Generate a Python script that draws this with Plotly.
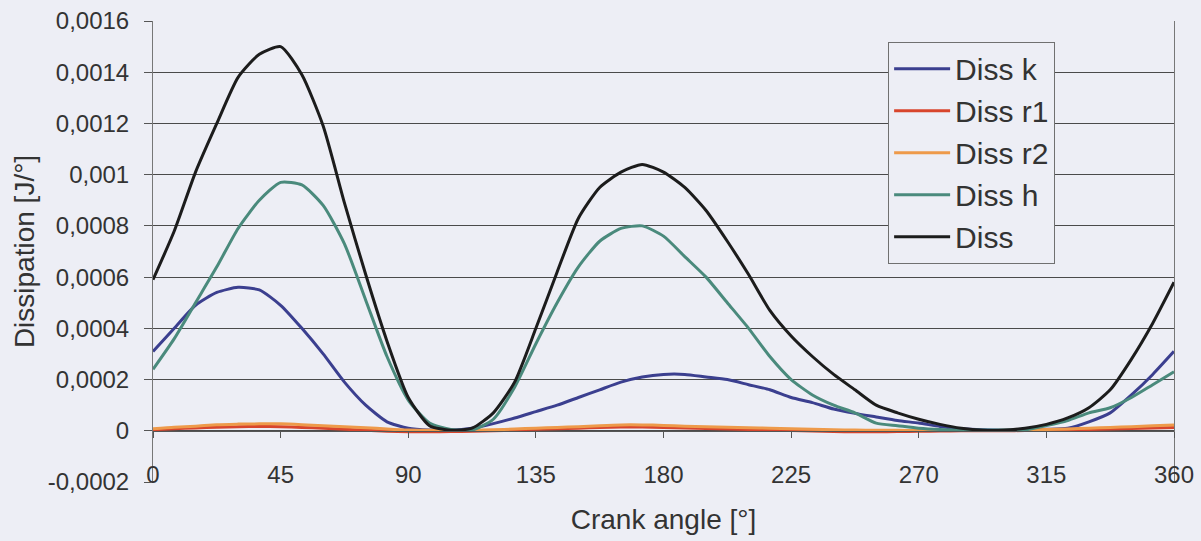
import plotly.graph_objects as go

# crank angle grid, degrees
angle = [i * 7.5 for i in range(49)]

diss_k = [0.00031, 0.00040, 0.00049, 0.00054, 0.00056, 0.00055, 0.00049, 0.00040,
          0.00030, 0.00019, 0.00010, 0.000035, 0.00001, 0.000003, 0.000002, 0.00001,
          0.000028, 0.00005, 0.000075, 0.00010, 0.00013, 0.00016, 0.00019, 0.00021,
          0.00022, 0.00022, 0.00021, 0.00020, 0.00018, 0.00016, 0.00013, 0.00011,
          0.000085, 0.000068, 0.000054, 0.00004, 0.00003, 0.000017, 0.000008, 0.000004,
          0.000003, 0.000004, 0.000006, 0.00001, 0.000035, 0.00007, 0.00014, 0.00022,
          0.00031]

diss_r1 = [0.000004, 0.000008, 0.000011, 0.000014, 0.000016, 0.000017, 0.000016, 0.000013,
           0.00001, 0.000006, 0.000002, -0.000002, -0.000004, -0.000004, -0.000003, -0.000002,
           0.0, 0.000003, 0.000006, 0.000008, 0.00001, 0.000013, 0.000015, 0.000015,
           0.000013, 0.000011, 0.000009, 0.000007, 0.000005, 0.000003, 0.000001, -0.000001,
           -0.000003, -0.000004, -0.000004, -0.000003, -0.000002, -0.000001, 0.0, 0.0,
           0.0, 0.000001, 0.000002, 0.000003, 0.000005, 0.000007, 0.000009, 0.000011,
           0.000013]

diss_r2 = [0.000008, 0.000014, 0.000018, 0.000024, 0.000026, 0.000027, 0.000027, 0.000024,
           0.00002, 0.000016, 0.000012, 0.000007, 0.000003, 0.000002, 0.000001, 0.000002,
           0.000004, 0.000007, 0.00001, 0.000013, 0.000016, 0.00002, 0.000023, 0.000023,
           0.000021, 0.000018, 0.000016, 0.000014, 0.000012, 0.00001, 0.000008, 0.000006,
           0.000004, 0.000003, 0.000002, 0.000002, 0.000001, 0.000001, 0.000001, 0.000001,
           0.000002, 0.000003, 0.000005, 0.000007, 0.00001, 0.000013, 0.000016, 0.00002,
           0.000023]

diss_h = [0.00024, 0.00036, 0.00050, 0.00064, 0.00079, 0.00090, 0.00097, 0.00096,
          0.00088, 0.00073, 0.00051, 0.00029, 0.00012, 0.00003, 0.000005, 0.000003,
          0.000045, 0.00017, 0.00034, 0.00050, 0.00064, 0.00074, 0.00079, 0.00080,
          0.00076, 0.00068, 0.00060, 0.00050, 0.00040, 0.00029, 0.00020, 0.00014,
          0.00010, 0.00007, 0.00003, 0.00002, 0.00001, 0.000005, 0.000003, 0.000003,
          0.000003, 0.000003, 0.00002, 0.00004, 0.00007, 0.00009, 0.00013, 0.00018,
          0.00023]

diss = [0.00059, 0.00078, 0.00101, 0.00120, 0.00138, 0.00147, 0.00150, 0.00139,
        0.00119, 0.00089, 0.00061, 0.00035, 0.00013, 0.00002, 0.000002, 0.00001,
        0.00007, 0.00019, 0.00040, 0.00062, 0.00083, 0.00095, 0.00101, 0.00104,
        0.00101, 0.00095, 0.00086, 0.00074, 0.00061, 0.00047, 0.00037, 0.00029,
        0.00022, 0.00016, 0.00010, 0.00007, 0.000045, 0.000025, 0.00001, 0.000002,
        0.000002, 0.00001, 0.000025, 0.00005, 0.00009, 0.00016, 0.00028, 0.00042,
        0.00058]

y_ticks = [-0.0002, 0, 0.0002, 0.0004, 0.0006, 0.0008, 0.001, 0.0012, 0.0014, 0.0016]
y_labels = ["-0,0002", "0", "0,0002", "0,0004", "0,0006", "0,0008", "0,001", "0,0012", "0,0014", "0,0016"]
x_ticks = [0, 45, 90, 135, 180, 225, 270, 315, 360]

series = [
    ("Diss k", diss_k, "#3b3f8f"),
    ("Diss r1", diss_r1, "#d8452c"),
    ("Diss r2", diss_r2, "#ee9a4a"),
    ("Diss h", diss_h, "#4a8a7c"),
    ("Diss", diss, "#1c1c1c"),
]

bg = "#edeef5"
font = "Liberation Sans, Arial, sans-serif"

fig = go.Figure()
for name, vals, col in series:
    fig.add_trace(go.Scatter(x=angle, y=vals, name=name, mode="lines",
                             line=dict(color=col, width=3, shape="spline", smoothing=0.6)))

fig.update_layout(
    width=1201, height=541,
    margin=dict(l=153, r=27, t=21, b=59),
    paper_bgcolor=bg, plot_bgcolor=bg,
    font=dict(family=font, size=24, color="#333333"),
    showlegend=True,
    legend=dict(x=0.72, y=0.955, xanchor="left", yanchor="top",
                bgcolor=bg, bordercolor="#707070", borderwidth=1,
                font=dict(size=30, color="#333333"), itemwidth=56),
)

fig.update_xaxes(
    range=[0, 360], tickvals=x_ticks,
    anchor="free", position=1 / 9,
    showline=True, linecolor="#555555", linewidth=1,
    ticks="outside", ticklen=6, tickcolor="#555555",
    ticklabelstandoff=16,
    showgrid=False, zeroline=False, automargin=False,
    title=dict(text="Crank angle [°]", font=dict(size=28), standoff=22),
)

fig.update_yaxes(
    range=[-0.0002, 0.0016], tickvals=y_ticks, ticktext=y_labels,
    showline=True, mirror=True, linecolor="#777777", linewidth=1,
    ticks="outside", ticklen=8, tickcolor="#555555",
    ticklabelstandoff=10,
    showgrid=True, gridcolor="#4a4a4a", gridwidth=1,
    zeroline=False, automargin=False,
    title=dict(text="Dissipation [J/°]", font=dict(size=28), standoff=4),
)

# the browser's default 8px body margin would shift the whole chart
fig.write_html("out.html", config={"displayModeBar": False},
               post_script="document.body.style.margin='0';document.body.style.background='%s';" % bg)
